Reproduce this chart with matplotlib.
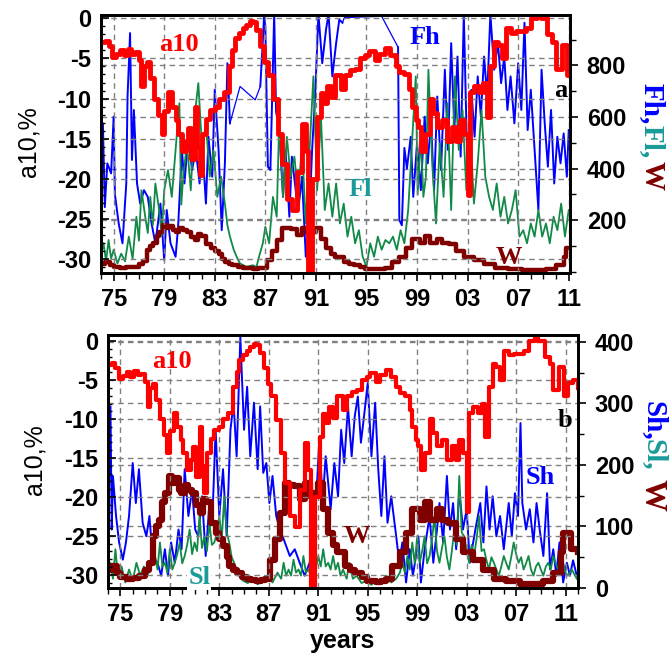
import numpy as np
import matplotlib
matplotlib.use('Agg')
import matplotlib.pyplot as plt
from matplotlib.ticker import MultipleLocator, FixedLocator

plt.rcParams['axes.unicode_minus'] = False
plt.rcParams['font.family'] = ['Liberation Sans', 'DejaVu Sans']

NAN = float('nan')

# a10, % (same curve in both panels)
a10_points = [
    (1974.0, -3.0), (1974.3, -2.8), (1974.6, -3.5), (1974.9, -4.8), (1975.2, -4.5),
    (1975.5, -4.0), (1975.8, -4.6), (1976.1, -3.8), (1976.4, -4.4), (1976.7, -4.2),
    (1977.0, -5.2), (1977.2, -8.4), (1977.4, -6.0), (1977.6, -5.5), (1977.9, -7.5),
    (1978.2, -10.0), (1978.5, -12.0), (1978.8, -14.4), (1979.0, -11.5), (1979.3, -9.2),
    (1979.6, -11.0), (1979.9, -12.7), (1980.1, -14.4), (1980.4, -16.5), (1980.7, -15.3),
    (1980.9, -13.6), (1981.1, -17.5), (1981.4, -11.0), (1981.6, -16.0), (1981.8, -19.5),
    (1982.0, -14.4), (1982.3, -12.5), (1982.6, -11.4), (1983.0, -11.0), (1983.3, -10.0),
    (1983.7, -9.2), (1984.1, -5.9), (1984.4, -4.0), (1984.6, -2.4), (1984.9, -1.8),
    (1985.2, -1.2), (1985.5, -0.8), (1985.8, -0.3), (1986.0, -0.5), (1986.25, -1.5),
    (1986.6, -3.5), (1986.9, -5.5), (1987.2, -7.1), (1987.6, -10.1), (1988.0, -14.4),
    (1988.3, -18.2), (1988.7, -22.5), (1989.1, -23.8), (1989.5, -19.1), (1989.9, -13.1),
    (1990.2, -16.5), (1990.4, -31.5), (1990.7, -20.0), (1991.1, -12.3), (1991.4, -9.3),
    (1991.6, -10.5), (1991.9, -8.4), (1992.2, -9.8), (1992.5, -7.1), (1993.0, -8.8),
    (1993.3, -7.1), (1993.7, -6.5), (1994.1, -6.3), (1994.5, -5.0), (1994.9, -4.6),
    (1995.2, -4.1), (1995.7, -5.2), (1996.0, -4.4), (1996.5, -3.7), (1996.9, -4.6),
    (1997.3, -5.9), (1997.6, -6.7), (1998.0, -7.0), (1998.4, -8.8), (1998.6, -11.0),
    (1998.9, -12.7), (1999.1, -13.5), (1999.3, -16.5), (1999.6, -14.4), (2000.0, -10.0),
    (2000.3, -11.8), (2000.6, -13.5), (2001.0, -12.7), (2001.4, -15.3), (2001.8, -13.5),
    (2002.1, -15.3), (2002.4, -12.7), (2002.7, -14.4), (2003.0, -22.0), (2003.2, -9.2),
    (2003.5, -8.4), (2003.9, -9.2), (2004.2, -8.0), (2004.5, -12.3), (2004.8, -5.9),
    (2005.1, -2.9), (2005.4, -3.3), (2005.7, -5.0), (2006.0, -1.2), (2006.4, -1.8),
    (2006.8, -1.6), (2007.2, -1.6), (2007.6, -1.2), (2008.0, 0.0), (2008.5, 0.4),
    (2008.8, 0.0), (2009.3, -2.0), (2009.7, -2.9), (2010.0, -6.3), (2010.5, -3.3),
    (2010.9, -7.1), (2011.2, -5.4), (2011.6, -5.0), (2012.0, -6.0),
]

# sunspot number W (both panels)
w_points = [
    (1974.0, 30), (1974.3, 36), (1974.7, 25), (1975.0, 18), (1975.5, 15), (1976.0, 17),
    (1976.5, 19), (1977.0, 30), (1977.3, 41), (1977.6, 84), (1977.9, 100), (1978.1, 111),
    (1978.4, 140), (1978.6, 155), (1978.9, 182), (1979.2, 170), (1979.4, 178), (1979.7, 160),
    (1979.9, 155), (1980.2, 168), (1980.5, 160), (1980.8, 155), (1981.1, 135), (1981.4, 122),
    (1981.7, 145), (1981.9, 139), (1982.3, 106), (1982.7, 90), (1983.0, 80), (1983.3, 68),
    (1983.6, 50), (1983.8, 36), (1984.1, 30), (1984.4, 25), (1984.8, 18), (1985.2, 14),
    (1985.6, 13), (1986.0, 12), (1986.4, 13), (1986.7, 14), (1987.1, 46), (1987.5, 79),
    (1987.9, 122), (1988.3, 171), (1988.6, 168), (1989.0, 165), (1989.5, 144), (1989.9, 171),
    (1990.3, 150), (1990.6, 155), (1991.0, 171), (1991.4, 128), (1991.8, 90), (1992.2, 70),
    (1992.5, 58), (1993.2, 36), (1993.6, 30), (1994.0, 25), (1994.5, 18), (1994.9, 12),
    (1995.3, 11), (1995.7, 10), (1996.1, 11), (1996.5, 14), (1997.0, 36), (1997.6, 58),
    (1998.1, 90), (1998.6, 128), (1999.2, 111), (1999.6, 139), (2000.0, 111), (2000.6, 128),
    (2001.0, 111), (2001.5, 106), (2002.1, 79), (2002.7, 58), (2003.5, 46), (2004.3, 30),
    (2005.2, 14), (2006.2, 12), (2007.3, 7), (2008.4, 7), (2009.2, 12), (2010.0, 25),
    (2010.6, 58), (2010.8, 90), (2011.4, 63), (2012.0, 58),
]

# Fh (top panel), NaN marks the data gaps
fh_points = [
    (1974.0, 213), (1974.15, 575), (1974.3, 250), (1974.5, 420), (1974.8, 381), (1975.0, 601),
    (1975.1, 300), (1975.4, 187), (1975.7, 110), (1976.0, 342), (1976.1, 679), (1976.3, 925),
    (1976.45, 433), (1976.6, 627), (1976.85, 342), (1977.1, 264), (1977.4, 316), (1977.7, 290),
    (1978.0, 187), (1978.3, 110), (1978.7, 264), (1979.0, 45), (1979.2, 239), (1979.5, 110),
    (1979.9, 58), (1980.1, 174), (1980.4, 472), (1980.6, 342), (1980.9, 523), (1981.2, 394),
    (1981.5, 472), (1981.8, 342), (1982.0, 498), (1982.3, 264), (1982.5, 523), (1982.8, 368),
    (1983.0, 705), (1983.3, 472), (1983.55, 161), (1983.8, 420), (1984.0, 808), (1984.2, 575),
    (1984.25, NAN),
    (1986.6, 718), (1986.75, 847), (1986.9, 990), (1987.0, 950), (1987.2, 407), (1987.4, 394),
    (1987.7, 1000), (1987.85, 620), (1988.1, 549), (1988.4, 290), (1988.6, 472), (1988.9, 213),
    (1989.1, 446), (1989.4, 316), (1989.6, 239), (1989.9, 368), (1990.2, 58), (1990.45, 174),
    (1990.7, 472), (1990.95, 692), (1991.2, 1000), (1991.5, 808), (1991.8, 938), (1992.0, 1000),
    (1992.3, 757), (1992.6, 886), (1992.85, 977), (1993.1, 965),
    (1993.2, NAN),
    (1997.5, 870), (1997.6, 200), (1997.8, 180), (1998.0, 480), (1998.2, 400), (1998.5, 523),
    (1998.7, 290), (1999.0, 498), (1999.3, 316), (1999.6, 601), (1999.85, 420), (2000.1, 588),
    (2000.35, 316), (2000.6, 679), (2000.9, 394), (2001.2, 783), (2001.45, 472), (2001.7, 886),
    (2001.95, 549), (2002.2, 834), (2002.45, 446), (2002.7, 1000), (2003.0, 368), (2003.3, 705),
    (2003.55, 523), (2003.8, 757), (2004.05, 601), (2004.3, 834), (2004.55, 679), (2004.8, 1000),
    (2005.1, 783), (2005.4, 886), (2005.65, 731), (2005.9, 834), (2006.15, 627), (2006.4, 757),
    (2006.7, 575), (2007.0, 808), (2007.25, 627), (2007.5, 965), (2007.75, 549), (2008.0, 705),
    (2008.3, 472), (2008.6, 239), (2008.85, 783), (2009.1, 575), (2009.35, 407), (2009.6, 627),
    (2009.85, 342), (2010.1, 523), (2010.35, 420), (2010.6, 536), (2010.85, 368), (2011.0, 549),
]

# thin connecting line across the Fh gaps
fh_gap_points = [
    (1984.2, 575), (1985.0, 718), (1986.2, 666), (1986.6, 718),
    (1993.1, 965), (1993.25, 985), (1996.2, 990), (1997.5, 870),
]

# Fl (top panel)
fl_points = [
    (1974.0, 60), (1974.2, 110), (1974.4, 40), (1974.6, 123), (1974.8, 50), (1975.0, 85),
    (1975.3, 32), (1975.6, 70), (1975.9, 40), (1976.2, 136), (1976.5, 50), (1976.8, 213),
    (1977.0, 120), (1977.2, 316), (1977.5, 213), (1977.7, 150), (1977.9, 290), (1978.1, 180),
    (1978.3, 342), (1978.6, 239), (1978.8, 140), (1979.0, 316), (1979.3, 394), (1979.6, 290),
    (1979.9, 472), (1980.2, 653), (1980.35, 260), (1980.5, 368), (1980.8, 498), (1981.1, 316),
    (1981.4, 601), (1981.7, 731), (1982.0, 472), (1982.3, 575), (1982.6, 368), (1982.9, 472),
    (1983.2, 290), (1983.5, 368), (1983.8, 264), (1984.0, 180), (1984.2, 136), (1984.5, 85),
    (1984.8, 50), (1985.0, 32), (1985.5, 19), (1986.0, 25), (1986.3, 19), (1986.5, 58),
    (1986.8, 110), (1987.0, 174), (1987.3, 110), (1987.6, 290), (1987.9, 213), (1988.1, 588),
    (1988.4, 290), (1988.7, 523), (1989.0, 368), (1989.3, 446), (1989.6, 290), (1989.9, 498),
    (1990.2, 187), (1990.5, 472), (1990.8, 757), (1991.1, 316), (1991.4, 601), (1991.7, 239),
    (1992.0, 342), (1992.3, 213), (1992.6, 342), (1992.9, 187), (1993.2, 264), (1993.5, 136),
    (1993.8, 213), (1994.1, 110), (1994.4, 161), (1994.7, 58), (1995.0, 19), (1995.3, 110),
    (1995.6, 58), (1995.9, 136), (1996.2, 85), (1996.5, 123), (1996.8, 110), (1997.1, 136),
    (1997.4, 85), (1997.7, 161), (1998.0, 110), (1998.3, 239), (1998.6, 498), (1998.9, 757),
    (1999.05, 300), (1999.3, 523), (1999.5, 290), (1999.7, 368), (1999.9, 783), (2000.2, 420),
    (2000.5, 187), (2000.8, 498), (2001.1, 290), (2001.4, 653), (2001.7, 239), (2002.0, 757),
    (2002.3, 472), (2002.6, 627), (2002.9, 316), (2003.2, 549), (2003.5, 264), (2003.8, 420),
    (2004.1, 627), (2004.4, 368), (2004.7, 290), (2005.0, 239), (2005.3, 342), (2005.6, 213),
    (2005.9, 290), (2006.2, 187), (2006.5, 239), (2006.8, 316), (2007.1, 136), (2007.4, 161),
    (2007.7, 110), (2008.0, 187), (2008.3, 136), (2008.6, 239), (2008.9, 136), (2009.2, 187),
    (2009.5, 110), (2009.8, 213), (2010.1, 161), (2010.4, 264), (2010.7, 136), (2011.0, 239),
]

# Sh (bottom panel)
sh_points = [
    (1974.0, 80), (1974.2, 295), (1974.3, 95), (1974.4, 182), (1974.65, 117), (1974.9, 74),
    (1975.2, 46), (1975.45, 74), (1975.7, 117), (1976.0, 203), (1976.25, 138), (1976.5, 193),
    (1976.8, 106), (1977.1, 84), (1977.35, 117), (1977.6, 52), (1978.0, 41), (1978.3, 20),
    (1978.6, 63), (1978.85, 20), (1979.1, 74), (1979.4, 41), (1979.7, 95), (1979.95, 63),
    (1980.2, 193), (1980.5, 117), (1980.8, 160), (1981.05, 95), (1981.3, 84), (1981.6, 149),
    (1981.9, 52), (1982.2, 138), (1982.45, 117), (1982.7, 257), (1983.0, 117), (1983.3, 193),
    (1983.6, 84), (1983.9, 257), (1984.15, 301), (1984.4, 214), (1984.7, 408), (1985.0, 257),
    (1985.25, 327), (1985.5, 214), (1985.8, 301), (1986.1, 193), (1986.3, 295), (1986.55, 187),
    (1986.8, 203), (1987.05, 138), (1987.3, 182), (1987.6, 117), (1987.9, 95), (1988.3, 74),
    (1988.7, 52), (1989.1, 63), (1989.5, 41), (1989.9, 20), (1990.3, 41), (1990.7, 95),
    (1991.1, 246), (1991.35, 138), (1991.6, 214), (1992.0, 128), (1992.3, 203), (1992.6, 149),
    (1992.85, 257), (1993.1, 203), (1993.4, 295), (1993.7, 214), (1993.95, 279), (1994.2, 311),
    (1994.45, 236), (1994.7, 279), (1995.0, 333), (1995.3, 214), (1995.6, 301), (1995.85, 193),
    (1996.1, 117), (1996.35, 214), (1996.6, 106), (1996.9, 149), (1997.3, 84), (1997.55, 41),
    (1997.8, 74), (1998.1, 9), (1998.4, 63), (1998.65, 20), (1998.9, 52), (1999.1, 84),
    (1999.3, 9), (1999.6, 63), (2000.0, 117), (2000.3, 41), (2000.6, 95), (2000.8, 138),
    (2001.1, 74), (2001.4, 182), (2001.65, 95), (2001.9, 138), (2002.15, 63), (2002.4, 160),
    (2002.7, 95), (2003.0, 128), (2003.25, 41), (2003.7, 95), (2004.1, 138), (2004.35, 74),
    (2004.6, 165), (2004.85, 95), (2005.1, 149), (2005.4, 84), (2005.7, 117), (2006.0, 63),
    (2006.4, 138), (2006.65, 84), (2006.9, 154), (2007.15, 117), (2007.35, 268), (2007.5, 138),
    (2007.8, 95), (2008.1, 128), (2008.4, 74), (2008.65, 138), (2008.9, 95), (2009.2, 52),
    (2009.5, 154), (2009.75, 30), (2010.0, 63), (2010.25, 20), (2010.5, 74), (2010.8, 9),
    (2011.1, 41), (2011.35, 20), (2011.6, 45), (2011.9, 20),
]

# Sl (bottom panel)
sl_points = [
    (1974.0, 25), (1974.2, 41), (1974.4, 15), (1974.6, 63), (1974.8, 20), (1975.1, 35),
    (1975.4, 9), (1975.7, 30), (1976.0, 12), (1976.3, 41), (1976.6, 20), (1976.9, 35),
    (1977.2, 20), (1977.5, 41), (1977.8, 52), (1978.0, 30), (1978.2, 74), (1978.4, 35),
    (1978.6, 41), (1978.8, 25), (1979.0, 63), (1979.2, 30), (1979.4, 41), (1979.6, 55),
    (1979.8, 74), (1980.0, 40), (1980.2, 52), (1980.4, 70), (1980.6, 95), (1980.8, 55),
    (1981.0, 74), (1981.2, 60), (1981.4, 117), (1981.6, 65), (1981.8, 84), (1982.0, 60),
    (1982.2, 106), (1982.4, 70), (1982.6, 74), (1982.8, 90), (1983.0, 117), (1983.2, 80),
    (1983.4, 149), (1983.6, 90), (1983.8, 74), (1984.0, 50), (1984.2, 41), (1984.4, 30),
    (1984.6, 20), (1984.9, 12), (1985.3, 8), (1985.7, 15), (1986.1, 6), (1986.5, 12),
    (1986.9, 20), (1987.3, 9), (1987.7, 25), (1988.0, 15), (1988.2, 41), (1988.4, 20),
    (1988.6, 30), (1988.8, 20), (1989.0, 46), (1989.2, 25), (1989.4, 30), (1989.6, 20),
    (1989.8, 52), (1990.0, 25), (1990.2, 30), (1990.4, 20), (1990.6, 41), (1990.8, 30),
    (1991.0, 52), (1991.2, 35), (1991.4, 63), (1991.6, 35), (1991.8, 41), (1992.0, 30),
    (1992.2, 52), (1992.4, 30), (1992.6, 41), (1992.8, 20), (1993.0, 30), (1993.3, 15),
    (1993.5, 41), (1993.8, 15), (1994.1, 20), (1994.5, 8), (1994.9, 12), (1995.3, 5),
    (1995.7, 15), (1996.1, 8), (1996.5, 20), (1996.9, 9), (1997.3, 15), (1997.6, 25),
    (1997.8, 41), (1998.0, 25), (1998.2, 52), (1998.4, 30), (1998.6, 74), (1998.8, 40),
    (1999.0, 84), (1999.2, 41), (1999.4, 60), (1999.6, 84), (1999.8, 40), (2000.0, 52),
    (2000.2, 80), (2000.4, 117), (2000.6, 60), (2000.8, 41), (2001.0, 65), (2001.2, 84),
    (2001.4, 50), (2001.6, 30), (2001.8, 60), (2002.0, 95), (2002.2, 70), (2002.4, 182),
    (2002.6, 90), (2002.8, 84), (2003.0, 60), (2003.2, 41), (2003.4, 70), (2003.6, 52),
    (2003.8, 80), (2004.0, 117), (2004.2, 60), (2004.4, 63), (2004.6, 45), (2004.8, 30),
    (2005.0, 50), (2005.2, 41), (2005.4, 30), (2005.6, 20), (2005.8, 35), (2006.0, 52),
    (2006.2, 40), (2006.4, 30), (2006.6, 50), (2006.8, 74), (2007.0, 55), (2007.2, 41),
    (2007.4, 50), (2007.6, 30), (2007.8, 40), (2008.0, 52), (2008.2, 30), (2008.4, 20),
    (2008.6, 35), (2008.8, 41), (2009.0, 30), (2009.2, 20), (2009.4, 35), (2009.6, 41),
    (2009.8, 30), (2010.0, 52), (2010.2, 40), (2010.4, 30), (2010.6, 45), (2010.8, 41),
    (2011.0, 25), (2011.2, 20), (2011.5, 30), (2011.9, 15),
]

xtick_years = [1975, 1979, 1983, 1987, 1991, 1995, 1999, 2003, 2007, 2011]
xtick_labels = ['75', '79', '83', '87', '91', '95', '99', '03', '07', '11']
left_ticks = [0, -5, -10, -15, -20, -25, -30]

RED = '#ff0000'
BLUE = '#0000ff'
GREEN = '#108a46'
DRED = '#800000'
TEAL = '#1a9a9a'
SERIF = ['Liberation Serif', 'DejaVu Serif']


def xy(points):
    arr = np.array(points, dtype=float)
    return arr[:, 0], arr[:, 1]


def setup(rect, xmax, ylim_left, ylim_right, right_major, right_minor):
    ax = fig.add_axes(rect)
    ax2 = ax.twinx()
    ax.set_zorder(ax2.get_zorder() + 1)
    ax.patch.set_visible(False)

    ax.set_xlim(1974.0, xmax)
    ax.set_ylim(*ylim_left)
    ax2.set_ylim(*ylim_right)

    ax.xaxis.set_major_locator(FixedLocator(xtick_years))
    ax.set_xticklabels(xtick_labels)
    ax.xaxis.set_minor_locator(MultipleLocator(1))
    ax.set_yticks(left_ticks)
    ax.set_yticklabels([str(t) for t in left_ticks])
    ax.yaxis.set_minor_locator(MultipleLocator(1))
    ax2.yaxis.set_major_locator(MultipleLocator(right_major))
    ax2.yaxis.set_minor_locator(MultipleLocator(right_minor))

    ax.tick_params(axis='x', which='major', direction='out', length=6, width=1.2, pad=5,
                   labelsize=17)
    ax.tick_params(axis='x', which='minor', direction='out', length=4, width=1)
    ax.tick_params(axis='y', which='major', direction='in', length=6, width=1.2, pad=7,
                   labelsize=17)
    ax.tick_params(axis='y', which='minor', direction='in', length=3, width=1)
    ax2.tick_params(axis='y', which='major', direction='out', length=6, width=1.2, pad=6,
                    labelsize=17)
    ax2.tick_params(axis='y', which='minor', direction='out', length=4, width=1)
    for lab in ax.get_xticklabels() + ax.get_yticklabels() + ax2.get_yticklabels():
        lab.set_fontweight('bold')

    grid_kw = dict(color='#808080', linestyle=(0, (4, 3)), linewidth=1.0)
    ax.grid(True, which='major', axis='both', **grid_kw)
    ax2.grid(True, which='major', axis='y', **grid_kw)
    for a in (ax, ax2):
        for sp in a.spines.values():
            sp.set_linewidth(2)
    return ax, ax2


fig = plt.figure(figsize=(6.72, 6.6), dpi=100)

a10_x, a10_y = xy(a10_points)
w_x, w_y = xy(w_points)

# ---- top panel ----
ax, ax2 = setup([101 / 672, 1 - 273 / 660, 469 / 672, 258 / 660], 2011.1,
                (-31.7, 0.4), (-5, 995), 200, 100)
x, y = xy(fh_gap_points)
ax2.plot(x[:4], y[:4], color=BLUE, lw=0.9)
ax2.plot(x[4:], y[4:], color=BLUE, lw=0.9)
x, y = xy(fh_points)
ax2.plot(x, y, color=BLUE, lw=1.4)
x, y = xy(fl_points)
ax2.plot(x, y, color=GREEN, lw=1.3)
ax2.plot(w_x, w_y, color=DRED, lw=3.2, drawstyle='steps-post')
ax.plot(a10_x, a10_y, color=RED, lw=3.5, drawstyle='steps-post')
ax2.set_yticks([200, 400, 600, 800])
ax2.set_yticklabels(['200', '400', '600', '800'])
for lab in ax2.get_yticklabels():
    lab.set_fontweight('bold')

txt = dict(fontsize=19, fontweight='bold', family=SERIF, ha='center', va='center')
ax.text(0.166, 0.884, 'a10', color=RED, transform=ax.transAxes, **txt)
ax.text(0.691, 0.911, 'Fh', color=BLUE, transform=ax.transAxes, **txt)
ax.text(0.552, 0.322, 'Fl', color=TEAL, transform=ax.transAxes, **txt)
ax.text(0.870, 0.062, 'W', color=DRED, transform=ax.transAxes, **txt)
ax.text(0.981, 0.709, 'a', color='black', transform=ax.transAxes, **txt)

# ---- bottom panel ----
bx, bx2 = setup([108 / 672, 1 - 588 / 660, 470 / 672, 253 / 660], 2012.0,
                (-31.7, 0.8), (0, 411), 100, 50)
x, y = xy(sh_points)
bx2.plot(x, y, color=BLUE, lw=1.4)
x, y = xy(sl_points)
bx2.plot(x, y, color=GREEN, lw=1.3)
bx2.plot(w_x, w_y, color=DRED, lw=4.5, drawstyle='steps-post')
bx.plot(a10_x, a10_y, color=RED, lw=3, drawstyle='steps-post')

bx.text(0.136, 0.897, 'a10', color=RED, transform=bx.transAxes, **txt)
bx.text(0.194, 0.043, 'Sl', color=TEAL, transform=bx.transAxes,
        bbox=dict(facecolor='white', edgecolor='none', pad=1), **txt)
bx.text(0.530, 0.202, 'W', color=DRED, transform=bx.transAxes, **txt)
bx.text(0.919, 0.435, 'Sh', color=BLUE, transform=bx.transAxes, **txt)
bx.text(0.972, 0.664, 'b', color='black', transform=bx.transAxes, **txt)
bx.set_xlabel('years', fontsize=18, fontweight='bold', labelpad=2)

# axis titles
fig.text(28 / 672, 1 - 142 / 660, 'a10,%', rotation=90, fontsize=18, ha='center', va='center')
fig.text(34 / 672, 1 - 460 / 660, 'a10,%', rotation=90, fontsize=18, ha='center', va='center')

lab = dict(fontsize=21, fontweight='bold', family=SERIF, rotation=-90, ha='center', va='center')
fig.text(652 / 672, 1 - 104 / 660, 'Fh,', color=BLUE, **lab)
fig.text(652 / 672, 1 - 142 / 660, 'Fl,', color=TEAL, **lab)
fig.text(652 / 672, 1 - 176 / 660, 'W', color=DRED, **lab)
fig.text(654 / 672, 1 - 421 / 660, 'Sh,', color=BLUE, **lab)
fig.text(654 / 672, 1 - 455 / 660, 'Sl,', color=TEAL, **lab)
fig.text(652 / 672, 1 - 495 / 660, 'W', color=DRED, **dict(lab, fontsize=23))

fig.savefig('out.png', dpi=100)
